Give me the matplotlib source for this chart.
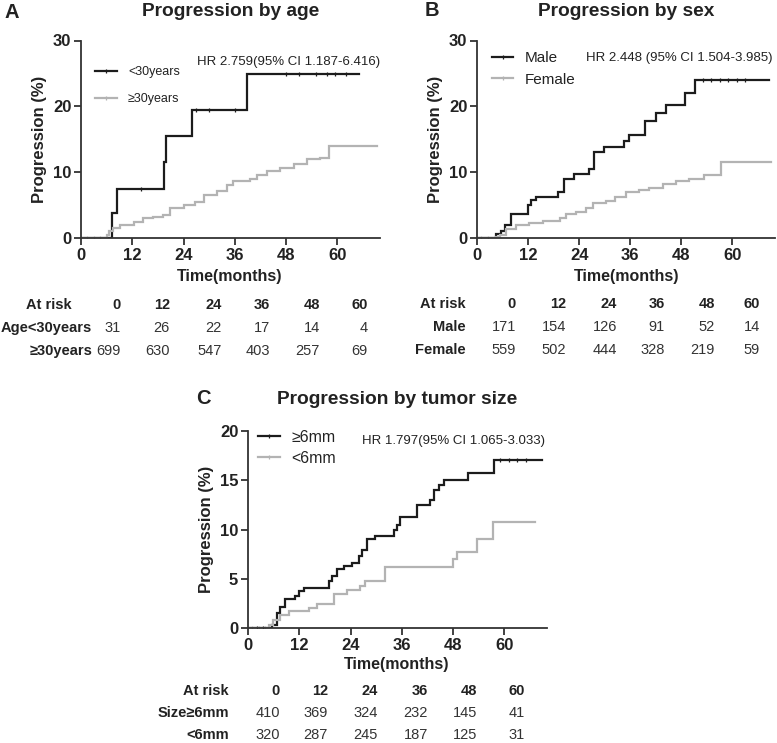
import numpy as np
import matplotlib.pyplot as plt

plt.rcParams['font.family'] = ['Liberation Sans', 'DejaVu Sans']

W, H = 777, 743
BLACK = '#1c1c1c'
GREY = '#b3b3b3'
TXT = '#222222'

# ---- panel A: progression by age ----
young_t = [0, 7.2, 8.5, 19.4, 19.9, 25.9, 38.8, 65]
young_p = [0, 3.8, 7.4, 11.5, 15.5, 19.5, 24.9, 24.9]
young_cens = [14, 27, 30, 36, 48, 51, 55, 57.5, 59.5, 62]
old_t = [0, 6.0, 6.6, 7.6, 9.1, 12.3, 14.6, 16.9, 19.3, 20.9, 24.0, 26.7, 28.7,
         31.8, 34.1, 35.7, 39.6, 41.2, 43.5, 46.6, 49.8, 52.9, 56.0, 58.0, 69.3]
old_p = [0, 0.5, 1.0, 1.5, 2.0, 2.5, 3.0, 3.2, 3.5, 4.5, 5.0, 5.5, 6.6,
         7.1, 8.0, 8.6, 9.0, 9.5, 10.2, 10.7, 11.3, 12.0, 12.2, 14.0, 14.0]
old_cens = [1.5, 3, 4.5]

# ---- panel B: progression by sex ----
male_t = [0, 4.5, 5.7, 6.5, 8.0, 12.0, 12.7, 13.9, 19.0, 20.5, 22.9, 26.4, 27.6,
          29.9, 34.6, 35.8, 39.5, 42.0, 44.4, 48.8, 51.2, 68.6]
male_p = [0, 0.6, 1.0, 2.0, 3.7, 5.0, 5.7, 6.3, 7.0, 9.0, 9.7, 10.5, 13.0,
          13.8, 14.8, 15.7, 17.8, 19.0, 20.2, 22.0, 24.0, 24.0]
male_cens = [53, 55, 57, 59, 61, 63]
female_t = [0, 4.5, 5.3, 6.9, 9.2, 12.3, 15.5, 19.4, 20.9, 23.3, 25.6, 27.2, 30.3,
            32.3, 35.0, 38.1, 40.5, 43.6, 46.7, 49.8, 53.4, 57.3, 69.0]
female_p = [0, 0.1, 0.4, 1.3, 2.0, 2.3, 2.6, 3.0, 3.7, 4.0, 4.5, 5.3, 5.6,
            6.3, 7.0, 7.3, 7.6, 8.2, 8.6, 9.0, 9.5, 11.5, 11.5]
female_cens = [1, 2.5]

# ---- panel C: progression by tumor size ----
big_t = [0, 5.6, 6.8, 7.6, 8.7, 11.1, 11.9, 13.0, 18.9, 19.7, 20.8, 22.4, 24.3,
         25.9, 26.7, 27.9, 29.8, 34.1, 34.9, 35.7, 39.6, 42.7, 43.5, 44.6, 45.8,
         51.4, 57.7, 68.8]
big_p = [0, 0.3, 1.5, 2.1, 2.9, 3.2, 3.8, 4.1, 4.8, 5.3, 6.0, 6.3, 6.6,
         7.3, 7.9, 9.0, 9.3, 10.0, 10.5, 11.3, 12.5, 13.0, 14.0, 14.5, 15.0,
         15.7, 17.1, 17.1]
big_cens = [2, 3.5, 59, 61, 63, 65]
small_t = [0, 4.8, 5.9, 7.6, 9.5, 14.2, 16.2, 20.1, 23.2, 26.3, 27.5, 32.1,
           47.9, 48.9, 53.6, 57.3, 67.3]
small_p = [0, 0.3, 0.8, 1.3, 1.7, 2.0, 2.4, 3.5, 3.9, 4.3, 4.8, 6.2,
           7.0, 7.7, 9.0, 10.8, 10.8]
small_cens = [1, 2.5, 4]

risk_times = ['0', '12', '24', '36', '48', '60']
risk_young = [31, 26, 22, 17, 14, 4]
risk_old = [699, 630, 547, 403, 257, 69]
risk_male = [171, 154, 126, 91, 52, 14]
risk_female = [559, 502, 444, 328, 219, 59]
risk_big = [410, 369, 324, 232, 145, 41]
risk_small = [320, 287, 245, 187, 125, 31]


def fx(x):
    return x / W


def fy(y):
    return 1 - y / H


def step_value(t, p, c):
    i = np.searchsorted(t, c, side='right') - 1
    return p[max(i, 0)]


def km(ax, t, p, cens, color, label):
    ax.plot(t, p, drawstyle='steps-post', color=color, lw=1.6,
            solid_joinstyle='miter')
    cy = [step_value(t, p, c) for c in cens]
    ax.plot(cens, cy, ls='none', marker='|', ms=3.5, mew=0.9, color=color)
    return plt.Line2D([], [], color=color, lw=1.6, marker='|', ms=3.5,
                      mew=0.9, label=label)


def setup(ax, ymax, ystep):
    ax.set_xlim(0, 70)
    ax.set_ylim(0, ymax)
    ax.set_xticks(range(0, 61, 12))
    ax.set_yticks(np.arange(0, ymax + 0.1, ystep))
    for s in ['top', 'right']:
        ax.spines[s].set_visible(False)
    for s in ['left', 'bottom']:
        ax.spines[s].set_linewidth(1.3)
        ax.spines[s].set_color('#333333')
    ax.tick_params(direction='out', length=5, width=1.3, color='#333333',
                   labelsize=12, pad=2, labelcolor=TXT)
    for lab in ax.get_xticklabels() + ax.get_yticklabels():
        lab.set_fontweight('bold')
    ax.set_ylabel('Progression (%)', fontsize=12, fontweight='bold', color=TXT,
                  labelpad=4)


fig = plt.figure(figsize=(W / 100, H / 100), dpi=100)

axA = fig.add_axes([fx(81), fy(238), (380 - 81) / W, (238 - 40.5) / H])
axB = fig.add_axes([fx(477), fy(238), (775 - 477) / W, (238 - 40.5) / H])
axC = fig.add_axes([fx(248), fy(628), (547 - 248) / W, (628 - 431) / H])

# A
hA = [km(axA, young_t, young_p, young_cens, BLACK, '<30years'),
      km(axA, old_t, old_p, old_cens, GREY, '≥30years')]
setup(axA, 30, 10)
axA.legend(handles=hA, loc='upper left', bbox_to_anchor=(fx(95), fy(66)),
           bbox_transform=fig.transFigure, frameon=False, fontsize=9,
           handlelength=1.75, handletextpad=0.9, labelspacing=1.2,
           borderpad=0, borderaxespad=0, labelcolor=TXT)
fig.text(fx(380), fy(62), 'HR 2.759(95% CI 1.187-6.416)', ha='right',
         va='center', fontsize=9.5, color=TXT)

# B
hB = [km(axB, male_t, male_p, male_cens, BLACK, 'Male'),
      km(axB, female_t, female_p, female_cens, GREY, 'Female')]
setup(axB, 30, 10)
axB.legend(handles=hB, loc='upper left', bbox_to_anchor=(fx(492), fy(51)),
           bbox_transform=fig.transFigure, frameon=False, fontsize=11,
           handlelength=1.4, handletextpad=0.75, labelspacing=0.5,
           borderpad=0, borderaxespad=0, labelcolor=TXT)
fig.text(fx(773), fy(58), 'HR 2.448 (95% CI 1.504-3.985)', ha='right',
         va='center', fontsize=9.5, color=TXT)

# C
hC = [km(axC, big_t, big_p, big_cens, BLACK, '≥6mm'),
      km(axC, small_t, small_p, small_cens, GREY, '<6mm')]
setup(axC, 20, 5)
axC.legend(handles=hC, loc='upper left', bbox_to_anchor=(fx(258), fy(430)),
           bbox_transform=fig.transFigure, frameon=False, fontsize=11.5,
           handlelength=1.4, handletextpad=0.7, labelspacing=0.35,
           borderpad=0, borderaxespad=0, labelcolor=TXT)
fig.text(fx(545), fy(441), 'HR 1.797(95% CI 1.065-3.033)', ha='right',
         va='center', fontsize=9.5, color=TXT)

# titles and panel letters
for letter, lx, ly in [('A', 12, 12), ('B', 432, 11), ('C', 203, 399)]:
    fig.text(fx(lx), fy(ly), letter, ha='center', va='center', fontsize=14.5,
             fontweight='bold', color=TXT)
for title, cx, cy in [('Progression by age', 231, 11),
                      ('Progression by sex', 626, 11),
                      ('Progression by tumor size', 397, 399)]:
    fig.text(fx(cx), fy(cy), title, ha='center', va='center', fontsize=13.8,
             fontweight='bold', color=TXT)


# risk tables
def risk_table(xlab_x, xlab_y, col_x, rows_y, labels, label_x, data):
    fig.text(fx(xlab_x), fy(xlab_y), 'Time(months)', ha='center', va='center',
             fontsize=11.5, fontweight='bold', color=TXT)
    fig.text(fx(label_x[0]), fy(rows_y[0]), 'At risk', ha='right',
             va='center', fontsize=10.5, fontweight='bold', color=TXT)
    for x, t in zip(col_x, risk_times):
        fig.text(fx(x), fy(rows_y[0]), t, ha='right', va='center',
                 fontsize=10.5, fontweight='bold', color=TXT)
    for k in range(2):
        fig.text(fx(label_x[k + 1]), fy(rows_y[k + 1]), labels[k], ha='right',
                 va='center', fontsize=10.5, fontweight='bold', color=TXT)
        for x, v in zip(col_x, data[k]):
            fig.text(fx(x), fy(rows_y[k + 1]), str(v), ha='right',
                     va='center', fontsize=10.5, color='#333333')


risk_table(230, 277, [121, 170, 222, 270, 320, 368], [305, 328, 351],
           ['Age<30years', '≥30years'], [72, 92, 92],
           [risk_young, risk_old])
risk_table(627, 276, [516, 566, 617, 665, 715, 760], [304, 327, 350],
           ['Male', 'Female'], [466, 466, 466],
           [risk_male, risk_female])
risk_table(397, 665, [280, 328, 378, 428, 477, 525], [691, 713, 735],
           ['Size≥6mm', '<6mm'], [229, 229, 229],
           [risk_big, risk_small])

fig.savefig('out.png', dpi=100)
